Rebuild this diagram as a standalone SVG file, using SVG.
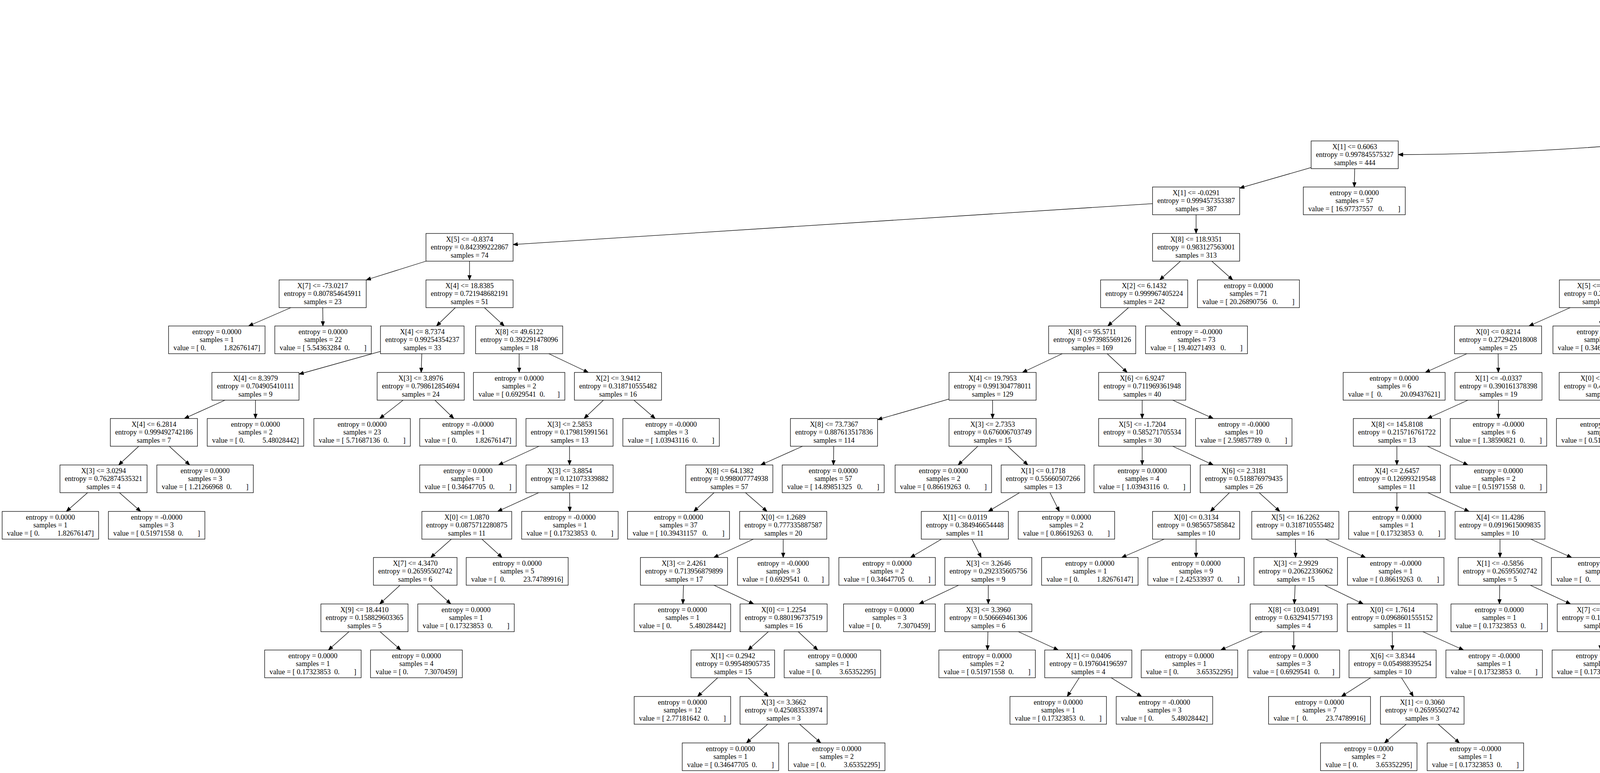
<svg xmlns="http://www.w3.org/2000/svg" width="7316" height="1980" viewBox="0 0 7316 1980">
<style>
rect{fill:#fff;stroke:#000;stroke-width:1.3}
text{font-family:"Liberation Serif","Times New Roman",serif;font-size:18.3px;text-anchor:middle;fill:#000;white-space:pre}
#edges line,#edges path{stroke:#000;stroke-width:1.3;fill:none;marker-end:url(#ah)}
</style>
<defs><marker id="ah" markerWidth="12" markerHeight="10" refX="12" refY="4.75" orient="auto" markerUnits="userSpaceOnUse"><path d="M0,0 L12,4.75 L0,9.5 z" fill="#000" stroke="#000" stroke-width="1"/></marker></defs>
<rect x="0" y="0" width="7316" height="1980" style="stroke:none"/>
<g id="edges">
<line x1="5291.5" y1="56.9" x2="4976.5" y2="132.4"/>
<line x1="5428.5" y1="57" x2="5741.5" y2="132.3"/>
<line x1="4787" y1="195" x2="4683" y2="242"/>
<line x1="4865" y1="195" x2="4865" y2="242"/>
<line x1="5853.6" y1="195" x2="5854.4" y2="242"/>
<line x1="5964.5" y1="182.6" x2="6303.5" y2="254.2"/>
<path d="M4753,312 C4300,366 3900,396 3579.5,396"/>
<line x1="4865" y1="313" x2="4865" y2="361"/>
<line x1="6415" y1="313" x2="6415" y2="361"/>
<line x1="6494.8" y1="313" x2="6601.2" y2="361"/>
<line x1="3356.5" y1="429.1" x2="3173.5" y2="481.9"/>
<line x1="3468" y1="432" x2="3467" y2="479"/>
<line x1="4755.5" y1="432" x2="4609.5" y2="479"/>
<line x1="4976.5" y1="426" x2="5201.5" y2="485"/>
<line x1="6415" y1="432" x2="6415" y2="479"/>
<line x1="6494.8" y1="432" x2="6601.2" y2="479"/>
<line x1="2950.5" y1="521.6" x2="1313.5" y2="626.4"/>
<line x1="3062" y1="550" x2="3062" y2="598"/>
<line x1="4421.7" y1="550" x2="4317.3" y2="598"/>
<line x1="4500" y1="550" x2="4500" y2="598"/>
<line x1="5313" y1="550" x2="5313" y2="598"/>
<line x1="5424.5" y1="533.2" x2="5908.5" y2="614.8"/>
<line x1="6415" y1="550" x2="6415" y2="598"/>
<line x1="6511.9" y1="550" x2="6641.1" y2="598"/>
<line x1="1090.5" y1="669" x2="937.5" y2="717"/>
<line x1="1202" y1="669" x2="1202" y2="717"/>
<line x1="3022.1" y1="669" x2="2968.9" y2="717"/>
<line x1="3102.2" y1="669" x2="3155.8" y2="717"/>
<line x1="4388.5" y1="666.5" x2="4206" y2="720.9"/>
<line x1="4500" y1="669" x2="4500" y2="717"/>
<line x1="5274" y1="669" x2="5222" y2="717"/>
<line x1="5351.7" y1="669" x2="5403.3" y2="717"/>
<line x1="6020" y1="669" x2="6020" y2="717"/>
<line x1="6131.5" y1="662.3" x2="6367.5" y2="723.7"/>
<line x1="6738.3" y1="669" x2="6738.7" y2="717"/>
<line x1="6819" y1="669" x2="6927" y2="717"/>
<line x1="744.7" y1="788" x2="636.3" y2="835"/>
<line x1="826.3" y1="788" x2="826.7" y2="835"/>
<line x1="1165.7" y1="788" x2="1117.3" y2="835"/>
<line x1="1240.1" y1="788" x2="1290.9" y2="835"/>
<line x1="2889.1" y1="788" x2="2835.9" y2="835"/>
<line x1="2969.2" y1="788" x2="3022.8" y2="835"/>
<line x1="4019.8" y1="788" x2="3914.2" y2="835"/>
<line x1="4099" y1="788" x2="4099" y2="835"/>
<line x1="4459.2" y1="788" x2="4404.8" y2="835"/>
<line x1="4540.8" y1="788" x2="4595.2" y2="835"/>
<line x1="5104.7" y1="788" x2="5000.3" y2="835"/>
<line x1="5183" y1="788" x2="5183" y2="835"/>
<line x1="5442" y1="788" x2="5442" y2="835"/>
<line x1="5520" y1="788" x2="5624" y2="835"/>
<line x1="6009.8" y1="788" x2="5996.2" y2="835"/>
<line x1="6087.8" y1="788" x2="6178.2" y2="835"/>
<line x1="6487.1" y1="788" x2="6497.9" y2="835"/>
<line x1="6569.3" y1="788" x2="6689.7" y2="835"/>
<line x1="974" y1="900.2" x2="765.5" y2="958.5"/>
<line x1="1079.8" y1="906" x2="1078.2" y2="954"/>
<line x1="1329" y1="906" x2="1329" y2="954"/>
<line x1="1404.9" y1="906" x2="1506.1" y2="954"/>
<line x1="2719.5" y1="906" x2="2617.5" y2="954"/>
<line x1="2834.4" y1="906" x2="2885.6" y2="954"/>
<line x1="3755.2" y1="906" x2="3648.8" y2="954"/>
<line x1="3835.3" y1="906" x2="3835.7" y2="954"/>
<line x1="4285.7" y1="906" x2="4181.3" y2="954"/>
<line x1="4364" y1="906" x2="4364" y2="954"/>
<line x1="4636" y1="906" x2="4636" y2="954"/>
<line x1="4714" y1="906" x2="4818" y2="954"/>
<line x1="5174.6" y1="906" x2="5163.4" y2="954"/>
<line x1="5254.1" y1="906" x2="5348.9" y2="954"/>
<line x1="5697.8" y1="906" x2="5692.2" y2="954"/>
<line x1="5770.4" y1="906" x2="5861.6" y2="954"/>
<line x1="6246.6" y1="906" x2="6247.4" y2="954"/>
<line x1="6324.9" y1="906" x2="6430.1" y2="954"/>
<line x1="6779.4" y1="906" x2="6778.6" y2="954"/>
<line x1="6855.6" y1="906" x2="6956.4" y2="954"/>
<line x1="576" y1="1025" x2="472" y2="1072"/>
<line x1="654" y1="1025" x2="654" y2="1072"/>
<line x1="1032" y1="1025" x2="972" y2="1072"/>
<line x1="1113.3" y1="1025" x2="1161.7" y2="1072"/>
<line x1="1544.8" y1="1025" x2="1495.2" y2="1072"/>
<line x1="1622.8" y1="1025" x2="1677.2" y2="1072"/>
<line x1="2429.5" y1="1022.1" x2="2246.5" y2="1074.9"/>
<line x1="2541" y1="1025" x2="2541" y2="1072"/>
<line x1="2924" y1="1025" x2="2924" y2="1072"/>
<line x1="3002" y1="1025" x2="3106" y2="1072"/>
<line x1="3758" y1="1025" x2="3654" y2="1072"/>
<line x1="3836" y1="1025" x2="3836" y2="1072"/>
<line x1="4104.5" y1="1025" x2="4106.5" y2="1072"/>
<line x1="4186.1" y1="1025" x2="4296.9" y2="1072"/>
<line x1="4836.9" y1="1025" x2="4758.1" y2="1072"/>
<line x1="4914.6" y1="1025" x2="4939.4" y2="1072"/>
<line x1="5576.5" y1="1022.6" x2="5408.4" y2="1072"/>
<line x1="5654.4" y1="1025" x2="5609.6" y2="1072"/>
<line x1="5905.7" y1="1025" x2="5873.3" y2="1072"/>
<line x1="5983.7" y1="1025" x2="6055.3" y2="1072"/>
<line x1="6284" y1="1025" x2="6332" y2="1072"/>
<line x1="6359.5" y1="1024.3" x2="6514" y2="1072"/>
<line x1="6995.1" y1="1025" x2="6945.9" y2="1072"/>
<line x1="7078.5" y1="1025" x2="7140.5" y2="1072"/>
<line x1="355.3" y1="1143" x2="303.7" y2="1191"/>
<line x1="433.3" y1="1143" x2="485.7" y2="1191"/>
<line x1="1380" y1="1143" x2="1276" y2="1191"/>
<line x1="1458" y1="1143" x2="1458" y2="1191"/>
<line x1="2054.6" y1="1143" x2="1947.4" y2="1191"/>
<line x1="2134.4" y1="1143" x2="2133.6" y2="1191"/>
<line x1="2503.2" y1="1143" x2="2452.8" y2="1191"/>
<line x1="2579.7" y1="1143" x2="2631.3" y2="1191"/>
<line x1="2924" y1="1143" x2="2924" y2="1191"/>
<line x1="3002" y1="1143" x2="3106" y2="1191"/>
<line x1="3576" y1="1143" x2="3576" y2="1191"/>
<line x1="3654" y1="1143" x2="3758" y2="1191"/>
<line x1="4692.1" y1="1143" x2="4682.9" y2="1191"/>
<line x1="4776.1" y1="1143" x2="4878.9" y2="1191"/>
<line x1="6029.2" y1="1143" x2="5922.8" y2="1191"/>
<line x1="6106.9" y1="1143" x2="6104.1" y2="1191"/>
<line x1="6369.8" y1="1143" x2="6372.2" y2="1191"/>
<line x1="6451.4" y1="1143" x2="6562.6" y2="1191"/>
<line x1="224.2" y1="1262" x2="169.8" y2="1310"/>
<line x1="305.8" y1="1262" x2="360.2" y2="1310"/>
<line x1="1379.1" y1="1262" x2="1273.9" y2="1310"/>
<line x1="1458.3" y1="1262" x2="1458.7" y2="1310"/>
<line x1="1828" y1="1262" x2="1776" y2="1310"/>
<line x1="1908.4" y1="1262" x2="1963.6" y2="1310"/>
<line x1="2610" y1="1262" x2="2530" y2="1310"/>
<line x1="2688" y1="1262" x2="2712" y2="1310"/>
<line x1="3147.4" y1="1262" x2="3098.6" y2="1310"/>
<line x1="3223.6" y1="1262" x2="3276.4" y2="1310"/>
<line x1="3576" y1="1262" x2="3576" y2="1310"/>
<line x1="3655.2" y1="1262" x2="3760.8" y2="1310"/>
<line x1="4595.9" y1="1262" x2="4489.1" y2="1310"/>
<line x1="4676" y1="1262" x2="4676" y2="1310"/>
<line x1="4956.3" y1="1262" x2="4956.7" y2="1310"/>
<line x1="5032.5" y1="1262" x2="5134.5" y2="1310"/>
<line x1="5810.9" y1="1262" x2="5768.1" y2="1310"/>
<line x1="5889.2" y1="1262" x2="5950.8" y2="1310"/>
<line x1="1155.4" y1="1381" x2="1102.6" y2="1428"/>
<line x1="1233.7" y1="1381" x2="1285.3" y2="1428"/>
<line x1="1928.8" y1="1381" x2="1827.2" y2="1428"/>
<line x1="2005" y1="1381" x2="2005" y2="1428"/>
<line x1="2410.3" y1="1381" x2="2330.7" y2="1428"/>
<line x1="2488" y1="1381" x2="2512" y2="1428"/>
<line x1="2980.4" y1="1381" x2="2871.6" y2="1428"/>
<line x1="3062" y1="1381" x2="3062" y2="1428"/>
<line x1="3316.3" y1="1381" x2="3316.7" y2="1428"/>
<line x1="3393.1" y1="1381" x2="3495.9" y2="1428"/>
<line x1="3840" y1="1381" x2="3840" y2="1428"/>
<line x1="3918.6" y1="1381" x2="4023.4" y2="1428"/>
<line x1="4404.8" y1="1381" x2="4399.2" y2="1428"/>
<line x1="4486.4" y1="1381" x2="4589.6" y2="1428"/>
<line x1="5135.1" y1="1381" x2="5033.9" y2="1428"/>
<line x1="5215.2" y1="1381" x2="5220.8" y2="1428"/>
<line x1="5943" y1="1381" x2="5871" y2="1428"/>
<line x1="6020.7" y1="1381" x2="6052.3" y2="1428"/>
<line x1="1024" y1="1499" x2="972" y2="1547"/>
<line x1="1102" y1="1499" x2="1154" y2="1547"/>
<line x1="1749.8" y1="1499" x2="1748.2" y2="1547"/>
<line x1="1827.5" y1="1499" x2="1929.5" y2="1547"/>
<line x1="2454.1" y1="1499" x2="2352.9" y2="1547"/>
<line x1="2530" y1="1499" x2="2530" y2="1547"/>
<line x1="3315.5" y1="1499" x2="3313.5" y2="1547"/>
<line x1="3391.1" y1="1499" x2="3489.9" y2="1547"/>
<line x1="3839.4" y1="1499" x2="3838.6" y2="1547"/>
<line x1="3917.4" y1="1499" x2="4020.6" y2="1547"/>
<line x1="5180.9" y1="1499" x2="5122.1" y2="1547"/>
<line x1="5257.1" y1="1499" x2="5299.9" y2="1547"/>
<line x1="5753.1" y1="1499" x2="5667.9" y2="1547"/>
<line x1="5831.1" y1="1499" x2="5849.9" y2="1547"/>
<line x1="893.4" y1="1618" x2="840.6" y2="1665"/>
<line x1="972.9" y1="1618" x2="1026.1" y2="1665"/>
<line x1="1967" y1="1618" x2="1915" y2="1665"/>
<line x1="2043.5" y1="1618" x2="2093.5" y2="1665"/>
<line x1="2529.1" y1="1618" x2="2527.9" y2="1665"/>
<line x1="2606.8" y1="1618" x2="2709.2" y2="1665"/>
<line x1="3231.9" y1="1618" x2="3125.1" y2="1665"/>
<line x1="3312" y1="1618" x2="3312" y2="1665"/>
<line x1="3564.3" y1="1618" x2="3564.7" y2="1665"/>
<line x1="3642.3" y1="1618" x2="3746.7" y2="1665"/>
<line x1="4097.7" y1="1618" x2="4097.3" y2="1665"/>
<line x1="4177.2" y1="1618" x2="4282.8" y2="1665"/>
<line x1="5288.8" y1="1618" x2="5231.2" y2="1665"/>
<line x1="5371" y1="1618" x2="5423" y2="1665"/>
<line x1="5844.5" y1="1618" x2="5818.5" y2="1665"/>
<line x1="5925.8" y1="1618" x2="6008.2" y2="1665"/>
<line x1="1837.3" y1="1736" x2="1785.7" y2="1784"/>
<line x1="1915" y1="1736" x2="1967" y2="1784"/>
<line x1="2762.9" y1="1736" x2="2732.1" y2="1784"/>
<line x1="2844.5" y1="1736" x2="2922.5" y2="1784"/>
<line x1="3508.9" y1="1736" x2="3434.1" y2="1784"/>
<line x1="3587.8" y1="1736" x2="3618.2" y2="1784"/>
<line x1="1965.2" y1="1855" x2="1910.8" y2="1903"/>
<line x1="2046.8" y1="1855" x2="2101.2" y2="1903"/>
<line x1="3599.9" y1="1855" x2="3544.1" y2="1903"/>
<line x1="3681.8" y1="1855" x2="3736.2" y2="1903"/>
</g>
<g id="n0" transform="translate(5360,5)"><rect x="-68.5" width="137" height="71"/><text><tspan x="0" y="20.5">X[3] &lt;= 4.0217</tspan><tspan x="0" y="41">entropy = 1.0</tspan><tspan x="0" y="61.5">samples = 980</tspan></text></g>
<g id="n1" transform="translate(4865,124)"><rect x="-111.5" width="223" height="71"/><text><tspan x="0" y="20.5">X[3] &lt;= 2.4174</tspan><tspan x="0" y="41">entropy = 0.985518266748</tspan><tspan x="0" y="61.5">samples = 737</tspan></text></g>
<g id="n2" transform="translate(5853,124)"><rect x="-111.5" width="223" height="71"/><text><tspan x="0" y="20.5">X[2] &lt;= -5.6772</tspan><tspan x="0" y="41">entropy = 0.395047326219</tspan><tspan x="0" y="61.5">samples = 243</tspan></text></g>
<g id="n3" transform="translate(4605,242)"><rect x="-124" width="248" height="71"/><text><tspan x="0" y="20.5">entropy = 0.0000</tspan><tspan x="0" y="41">samples = 26</tspan><tspan x="0" y="61.5" xml:space="preserve">value = [ 7.44925663  0.        ]</tspan></text></g>
<g id="n4" transform="translate(4865,242)"><rect x="-111.5" width="223" height="71"/><text><tspan x="0" y="20.5">X[7] &lt;= 10.0847</tspan><tspan x="0" y="41">entropy = 0.980962209176</tspan><tspan x="0" y="61.5">samples = 711</tspan></text></g>
<g id="n5" transform="translate(5855,242)"><rect x="-123.5" width="247" height="71"/><text><tspan x="0" y="20.5">entropy = 0.0000</tspan><tspan x="0" y="41">samples = 1</tspan><tspan x="0" y="61.5" xml:space="preserve">value = [ 0.          1.82676147]</tspan></text></g>
<g id="n6" transform="translate(6415,242)"><rect x="-111.5" width="223" height="71"/><text><tspan x="0" y="20.5">X[4] &lt;= 2.3104</tspan><tspan x="0" y="41">entropy = 0.300581596509</tspan><tspan x="0" y="61.5">samples = 242</tspan></text></g>
<g id="n7" transform="translate(3468,361)"><rect x="-111.5" width="223" height="71"/><text><tspan x="0" y="20.5">X[1] &lt;= 0.6063</tspan><tspan x="0" y="41">entropy = 0.997845575327</tspan><tspan x="0" y="61.5">samples = 444</tspan></text></g>
<g id="n8" transform="translate(4865,361)"><rect x="-111.5" width="223" height="71"/><text><tspan x="0" y="20.5">X[1] &lt;= 0.0088</tspan><tspan x="0" y="41">entropy = 0.885373775643</tspan><tspan x="0" y="61.5">samples = 267</tspan></text></g>
<g id="n9" transform="translate(6415,361)"><rect x="-111.5" width="223" height="71"/><text><tspan x="0" y="20.5">X[1] &lt;= 0.0706</tspan><tspan x="0" y="41">entropy = 0.639346921343</tspan><tspan x="0" y="61.5">samples = 79</tspan></text></g>
<g id="n10" transform="translate(6681,361)"><rect x="-130.5" width="261" height="71"/><text><tspan x="0" y="20.5">entropy = -0.0000</tspan><tspan x="0" y="41">samples = 163</tspan><tspan x="0" y="61.5" xml:space="preserve">value = [ 45.90820944   0.        ]</tspan></text></g>
<g id="n11" transform="translate(3062,479)"><rect x="-111.5" width="223" height="71"/><text><tspan x="0" y="20.5">X[1] &lt;= -0.0291</tspan><tspan x="0" y="41">entropy = 0.999457353387</tspan><tspan x="0" y="61.5">samples = 387</tspan></text></g>
<g id="n12" transform="translate(3467,479)"><rect x="-130.5" width="261" height="71"/><text><tspan x="0" y="20.5">entropy = 0.0000</tspan><tspan x="0" y="41">samples = 57</tspan><tspan x="0" y="61.5" xml:space="preserve">value = [ 16.97737557   0.        ]</tspan></text></g>
<g id="n13" transform="translate(4500,479)"><rect x="-111.5" width="223" height="71"/><text><tspan x="0" y="20.5">X[8] &lt;= 35.4259</tspan><tspan x="0" y="41">entropy = 0.571248112868</tspan><tspan x="0" y="61.5">samples = 82</tspan></text></g>
<g id="n14" transform="translate(5313,479)"><rect x="-111.5" width="223" height="71"/><text><tspan x="0" y="20.5">X[2] &lt;= 4.2342</tspan><tspan x="0" y="41">entropy = 0.999995079687</tspan><tspan x="0" y="61.5">samples = 185</tspan></text></g>
<g id="n15" transform="translate(6415,479)"><rect x="-111.5" width="223" height="71"/><text><tspan x="0" y="20.5">X[1] &lt;= 0.0418</tspan><tspan x="0" y="41">entropy = 0.882381434225</tspan><tspan x="0" y="61.5">samples = 39</tspan></text></g>
<g id="n16" transform="translate(6681,479)"><rect x="-130.5" width="261" height="71"/><text><tspan x="0" y="20.5">entropy = 0.0000</tspan><tspan x="0" y="41">samples = 40</tspan><tspan x="0" y="61.5" xml:space="preserve">value = [ 10.39431157   0.        ]</tspan></text></g>
<g id="n17" transform="translate(1202,598)"><rect x="-111.5" width="223" height="71"/><text><tspan x="0" y="20.5">X[5] &lt;= -0.8374</tspan><tspan x="0" y="41">entropy = 0.842399222867</tspan><tspan x="0" y="61.5">samples = 74</tspan></text></g>
<g id="n18" transform="translate(3062,598)"><rect x="-111.5" width="223" height="71"/><text><tspan x="0" y="20.5">X[8] &lt;= 118.9351</tspan><tspan x="0" y="41">entropy = 0.983127563001</tspan><tspan x="0" y="61.5">samples = 313</tspan></text></g>
<g id="n19" transform="translate(4239,598)"><rect x="-124" width="248" height="71"/><text><tspan x="0" y="20.5">entropy = 0.0000</tspan><tspan x="0" y="41">samples = 4</tspan><tspan x="0" y="61.5" xml:space="preserve">value = [ 1.38590821  0.        ]</tspan></text></g>
<g id="n20" transform="translate(4500,598)"><rect x="-111.5" width="223" height="71"/><text><tspan x="0" y="20.5">X[6] &lt;= 4.1319</tspan><tspan x="0" y="41">entropy = 0.540248613025</tspan><tspan x="0" y="61.5">samples = 78</tspan></text></g>
<g id="n21" transform="translate(5313,598)"><rect x="-111.5" width="223" height="71"/><text><tspan x="0" y="20.5">X[4] &lt;= 3.4057</tspan><tspan x="0" y="41">entropy = 0.913009199517</tspan><tspan x="0" y="61.5">samples = 81</tspan></text></g>
<g id="n22" transform="translate(6020,598)"><rect x="-111.5" width="223" height="71"/><text><tspan x="0" y="20.5">X[4] &lt;= 0.7739</tspan><tspan x="0" y="41">entropy = 0.804136724986</tspan><tspan x="0" y="61.5">samples = 104</tspan></text></g>
<g id="n23" transform="translate(6415,598)"><rect x="-123.5" width="247" height="71"/><text><tspan x="0" y="20.5">entropy = 0.0000</tspan><tspan x="0" y="41">samples = 36</tspan><tspan x="0" y="61.5" xml:space="preserve">value = [ 8.31544926  0.        ]</tspan></text></g>
<g id="n24" transform="translate(6738,598)"><rect x="-107" width="214" height="71"/><text><tspan x="0" y="20.5">X[0] &lt;= 0.7573</tspan><tspan x="0" y="41">entropy = 0.26595502742</tspan><tspan x="0" y="61.5">samples = 3</tspan></text></g>
<g id="n25" transform="translate(826,717)"><rect x="-111.5" width="223" height="71"/><text><tspan x="0" y="20.5">X[7] &lt;= -73.0217</tspan><tspan x="0" y="41">entropy = 0.807854645911</tspan><tspan x="0" y="61.5">samples = 23</tspan></text></g>
<g id="n26" transform="translate(1202,717)"><rect x="-111.5" width="223" height="71"/><text><tspan x="0" y="20.5">X[4] &lt;= 18.8385</tspan><tspan x="0" y="41">entropy = 0.721948682191</tspan><tspan x="0" y="61.5">samples = 51</tspan></text></g>
<g id="n27" transform="translate(2929,717)"><rect x="-111.5" width="223" height="71"/><text><tspan x="0" y="20.5">X[2] &lt;= 6.1432</tspan><tspan x="0" y="41">entropy = 0.999967405224</tspan><tspan x="0" y="61.5">samples = 242</tspan></text></g>
<g id="n28" transform="translate(3196,717)"><rect x="-130.5" width="261" height="71"/><text><tspan x="0" y="20.5">entropy = 0.0000</tspan><tspan x="0" y="41">samples = 71</tspan><tspan x="0" y="61.5" xml:space="preserve">value = [ 20.26890756   0.        ]</tspan></text></g>
<g id="n29" transform="translate(4099,717)"><rect x="-107" width="214" height="71"/><text><tspan x="0" y="20.5">X[5] &lt;= 21.9710</tspan><tspan x="0" y="41">entropy = 0.29986940485</tspan><tspan x="0" y="61.5">samples = 26</tspan></text></g>
<g id="n30" transform="translate(4500,717)"><rect x="-111.5" width="223" height="71"/><text><tspan x="0" y="20.5">X[7] &lt;= 12.6383</tspan><tspan x="0" y="41">entropy = 0.704905410111</tspan><tspan x="0" y="61.5">samples = 52</tspan></text></g>
<g id="n31" transform="translate(5183,717)"><rect x="-111.5" width="223" height="71"/><text><tspan x="0" y="20.5">X[5] &lt;= 16.3551</tspan><tspan x="0" y="41">entropy = 0.856618180482</tspan><tspan x="0" y="61.5">samples = 35</tspan></text></g>
<g id="n32" transform="translate(5442,717)"><rect x="-111.5" width="223" height="71"/><text><tspan x="0" y="20.5">X[2] &lt;= -0.9891</tspan><tspan x="0" y="41">entropy = 0.732182548359</tspan><tspan x="0" y="61.5">samples = 46</tspan></text></g>
<g id="n33" transform="translate(6020,717)"><rect x="-111.5" width="223" height="71"/><text><tspan x="0" y="20.5">X[6] &lt;= 1.4961</tspan><tspan x="0" y="41">entropy = 0.944862741412</tspan><tspan x="0" y="61.5">samples = 18</tspan></text></g>
<g id="n34" transform="translate(6479,717)"><rect x="-111.5" width="223" height="71"/><text><tspan x="0" y="20.5">X[8] &lt;= 114.9678</tspan><tspan x="0" y="41">entropy = 0.369596895294</tspan><tspan x="0" y="61.5">samples = 86</tspan></text></g>
<g id="n35" transform="translate(6739,717)"><rect x="-123.5" width="247" height="71"/><text><tspan x="0" y="20.5">entropy = 0.0000</tspan><tspan x="0" y="41">samples = 1</tspan><tspan x="0" y="61.5" xml:space="preserve">value = [ 0.17323853  0.        ]</tspan></text></g>
<g id="n36" transform="translate(7008,717)"><rect x="-123.5" width="247" height="71"/><text><tspan x="0" y="20.5">entropy = 0.0000</tspan><tspan x="0" y="41">samples = 2</tspan><tspan x="0" y="61.5" xml:space="preserve">value = [ 0.          3.65352295]</tspan></text></g>
<g id="n37" transform="translate(555,835)"><rect x="-123.5" width="247" height="71"/><text><tspan x="0" y="20.5">entropy = 0.0000</tspan><tspan x="0" y="41">samples = 1</tspan><tspan x="0" y="61.5" xml:space="preserve">value = [ 0.          1.82676147]</tspan></text></g>
<g id="n38" transform="translate(827,835)"><rect x="-123.5" width="247" height="71"/><text><tspan x="0" y="20.5">entropy = 0.0000</tspan><tspan x="0" y="41">samples = 22</tspan><tspan x="0" y="61.5" xml:space="preserve">value = [ 5.54363284  0.        ]</tspan></text></g>
<g id="n39" transform="translate(1081,835)"><rect x="-107" width="214" height="71"/><text><tspan x="0" y="20.5">X[4] &lt;= 8.7374</tspan><tspan x="0" y="41">entropy = 0.99254354237</tspan><tspan x="0" y="61.5">samples = 33</tspan></text></g>
<g id="n40" transform="translate(1329,835)"><rect x="-111.5" width="223" height="71"/><text><tspan x="0" y="20.5">X[8] &lt;= 49.6122</tspan><tspan x="0" y="41">entropy = 0.392291478096</tspan><tspan x="0" y="61.5">samples = 18</tspan></text></g>
<g id="n41" transform="translate(2796,835)"><rect x="-111.5" width="223" height="71"/><text><tspan x="0" y="20.5">X[8] &lt;= 95.5711</tspan><tspan x="0" y="41">entropy = 0.973985569126</tspan><tspan x="0" y="61.5">samples = 169</tspan></text></g>
<g id="n42" transform="translate(3063,835)"><rect x="-130.5" width="261" height="71"/><text><tspan x="0" y="20.5">entropy = -0.0000</tspan><tspan x="0" y="41">samples = 73</tspan><tspan x="0" y="61.5" xml:space="preserve">value = [ 19.40271493   0.        ]</tspan></text></g>
<g id="n43" transform="translate(3835,835)"><rect x="-111.5" width="223" height="71"/><text><tspan x="0" y="20.5">X[0] &lt;= 0.8214</tspan><tspan x="0" y="41">entropy = 0.272942018008</tspan><tspan x="0" y="61.5">samples = 25</tspan></text></g>
<g id="n44" transform="translate(4099,835)"><rect x="-123.5" width="247" height="71"/><text><tspan x="0" y="20.5">entropy = 0.0000</tspan><tspan x="0" y="41">samples = 1</tspan><tspan x="0" y="61.5" xml:space="preserve">value = [ 0.34647705  0.        ]</tspan></text></g>
<g id="n45" transform="translate(4364,835)"><rect x="-111.5" width="223" height="71"/><text><tspan x="0" y="20.5">X[0] &lt;= 0.8615</tspan><tspan x="0" y="41">entropy = 0.990078517384</tspan><tspan x="0" y="61.5">samples = 16</tspan></text></g>
<g id="n46" transform="translate(4636,835)"><rect x="-107" width="214" height="71"/><text><tspan x="0" y="20.5">X[1] &lt;= -1.2869</tspan><tspan x="0" y="41">entropy = 0.57495615713</tspan><tspan x="0" y="61.5">samples = 36</tspan></text></g>
<g id="n47" transform="translate(4922,835)"><rect x="-123.5" width="247" height="71"/><text><tspan x="0" y="20.5">entropy = 0.0000</tspan><tspan x="0" y="41">samples = 32</tspan><tspan x="0" y="61.5" xml:space="preserve">value = [ 8.83516484  0.        ]</tspan></text></g>
<g id="n48" transform="translate(5183,835)"><rect x="-111.5" width="223" height="71"/><text><tspan x="0" y="20.5">X[7] &lt;= 13.6209</tspan><tspan x="0" y="41">entropy = 0.542258484623</tspan><tspan x="0" y="61.5">samples = 3</tspan></text></g>
<g id="n49" transform="translate(5442,835)"><rect x="-123.5" width="247" height="71"/><text><tspan x="0" y="20.5">entropy = 0.0000</tspan><tspan x="0" y="41">samples = 7</tspan><tspan x="0" y="61.5" xml:space="preserve">value = [ 1.90562379  0.        ]</tspan></text></g>
<g id="n50" transform="translate(5702,835)"><rect x="-111.5" width="223" height="71"/><text><tspan x="0" y="20.5">X[9] &lt;= 8.3130</tspan><tspan x="0" y="41">entropy = 0.650351927456</tspan><tspan x="0" y="61.5">samples = 39</tspan></text></g>
<g id="n51" transform="translate(5986,835)"><rect x="-123.5" width="247" height="71"/><text><tspan x="0" y="20.5">entropy = 0.0000</tspan><tspan x="0" y="41">samples = 5</tspan><tspan x="0" y="61.5" xml:space="preserve">value = [ 1.55914674  0.        ]</tspan></text></g>
<g id="n52" transform="translate(6246,835)"><rect x="-111.5" width="223" height="71"/><text><tspan x="0" y="20.5">X[0] &lt;= 1.2612</tspan><tspan x="0" y="41">entropy = 0.830247420724</tspan><tspan x="0" y="61.5">samples = 13</tspan></text></g>
<g id="n53" transform="translate(6506,835)"><rect x="-124" width="248" height="71"/><text><tspan x="0" y="20.5">entropy = 0.0000</tspan><tspan x="0" y="41">samples = 73</tspan><tspan x="0" y="61.5" xml:space="preserve">value = [ 19.74919198   0.        ]</tspan></text></g>
<g id="n54" transform="translate(6780,835)"><rect x="-111.5" width="223" height="71"/><text><tspan x="0" y="20.5">X[5] &lt;= 14.0265</tspan><tspan x="0" y="41">entropy = 0.887613517836</tspan><tspan x="0" y="61.5">samples = 13</tspan></text></g>
<g id="n55" transform="translate(654,954)"><rect x="-111.5" width="223" height="71"/><text><tspan x="0" y="20.5">X[4] &lt;= 8.3979</tspan><tspan x="0" y="41">entropy = 0.704905410111</tspan><tspan x="0" y="61.5">samples = 9</tspan></text></g>
<g id="n56" transform="translate(1077,954)"><rect x="-111.5" width="223" height="71"/><text><tspan x="0" y="20.5">X[3] &lt;= 3.8976</tspan><tspan x="0" y="41">entropy = 0.798612854694</tspan><tspan x="0" y="61.5">samples = 24</tspan></text></g>
<g id="n57" transform="translate(1329,954)"><rect x="-117" width="234" height="71"/><text><tspan x="0" y="20.5">entropy = 0.0000</tspan><tspan x="0" y="41">samples = 2</tspan><tspan x="0" y="61.5" xml:space="preserve">value = [ 0.6929541  0.       ]</tspan></text></g>
<g id="n58" transform="translate(1582,954)"><rect x="-111.5" width="223" height="71"/><text><tspan x="0" y="20.5">X[2] &lt;= 3.9412</tspan><tspan x="0" y="41">entropy = 0.318710555482</tspan><tspan x="0" y="61.5">samples = 16</tspan></text></g>
<g id="n59" transform="translate(2541,954)"><rect x="-111.5" width="223" height="71"/><text><tspan x="0" y="20.5">X[4] &lt;= 19.7953</tspan><tspan x="0" y="41">entropy = 0.991304778011</tspan><tspan x="0" y="61.5">samples = 129</tspan></text></g>
<g id="n60" transform="translate(2924,954)"><rect x="-111.5" width="223" height="71"/><text><tspan x="0" y="20.5">X[6] &lt;= 6.9247</tspan><tspan x="0" y="41">entropy = 0.711969361948</tspan><tspan x="0" y="61.5">samples = 40</tspan></text></g>
<g id="n61" transform="translate(3569,954)"><rect x="-130.5" width="261" height="71"/><text><tspan x="0" y="20.5">entropy = 0.0000</tspan><tspan x="0" y="41">samples = 6</tspan><tspan x="0" y="61.5" xml:space="preserve">value = [  0.          20.09437621]</tspan></text></g>
<g id="n62" transform="translate(3836,954)"><rect x="-111.5" width="223" height="71"/><text><tspan x="0" y="20.5">X[1] &lt;= -0.0337</tspan><tspan x="0" y="41">entropy = 0.390161378398</tspan><tspan x="0" y="61.5">samples = 19</tspan></text></g>
<g id="n63" transform="translate(4103,954)"><rect x="-111.5" width="223" height="71"/><text><tspan x="0" y="20.5">X[0] &lt;= 0.6835</tspan><tspan x="0" y="41">entropy = 0.425083533974</tspan><tspan x="0" y="61.5">samples = 3</tspan></text></g>
<g id="n64" transform="translate(4364,954)"><rect x="-123.5" width="247" height="71"/><text><tspan x="0" y="20.5">entropy = 0.0000</tspan><tspan x="0" y="41">samples = 13</tspan><tspan x="0" y="61.5" xml:space="preserve">value = [ 3.81124758  0.        ]</tspan></text></g>
<g id="n65" transform="translate(4636,954)"><rect x="-123.5" width="247" height="71"/><text><tspan x="0" y="20.5">entropy = 0.0000</tspan><tspan x="0" y="41">samples = 5</tspan><tspan x="0" y="61.5" xml:space="preserve">value = [ 1.55914674  0.        ]</tspan></text></g>
<g id="n66" transform="translate(4896,954)"><rect x="-111.5" width="223" height="71"/><text><tspan x="0" y="20.5">X[9] &lt;= 64.0576</tspan><tspan x="0" y="41">entropy = 0.484882189602</tspan><tspan x="0" y="61.5">samples = 31</tspan></text></g>
<g id="n67" transform="translate(5155,954)"><rect x="-123.5" width="247" height="71"/><text><tspan x="0" y="20.5">entropy = 0.0000</tspan><tspan x="0" y="41">samples = 2</tspan><tspan x="0" y="61.5" xml:space="preserve">value = [ 0.51971558  0.        ]</tspan></text></g>
<g id="n68" transform="translate(5420,954)"><rect x="-123.5" width="247" height="71"/><text><tspan x="0" y="20.5">entropy = -0.0000</tspan><tspan x="0" y="41">samples = 1</tspan><tspan x="0" y="61.5" xml:space="preserve">value = [ 0.          3.65352295]</tspan></text></g>
<g id="n69" transform="translate(5688,954)"><rect x="-111.5" width="223" height="71"/><text><tspan x="0" y="20.5">X[4] &lt;= 11.8635</tspan><tspan x="0" y="41">entropy = 0.102364441452</tspan><tspan x="0" y="61.5">samples = 5</tspan></text></g>
<g id="n70" transform="translate(5930,954)"><rect x="-107" width="214" height="71"/><text><tspan x="0" y="20.5">X[9] &lt;= 11.5728</tspan><tspan x="0" y="41">entropy = 0.79808983746</tspan><tspan x="0" y="61.5">samples = 34</tspan></text></g>
<g id="n71" transform="translate(6248,954)"><rect x="-111.5" width="223" height="71"/><text><tspan x="0" y="20.5">X[7] &lt;= 13.2385</tspan><tspan x="0" y="41">entropy = 0.979363694585</tspan><tspan x="0" y="61.5">samples = 11</tspan></text></g>
<g id="n72" transform="translate(6509,954)"><rect x="-123.5" width="247" height="71"/><text><tspan x="0" y="20.5">entropy = 0.0000</tspan><tspan x="0" y="41">samples = 2</tspan><tspan x="0" y="61.5" xml:space="preserve">value = [ 0.          3.65352295]</tspan></text></g>
<g id="n73" transform="translate(6778,954)"><rect x="-117" width="234" height="71"/><text><tspan x="0" y="20.5">entropy = 0.0000</tspan><tspan x="0" y="41">samples = 11</tspan><tspan x="0" y="61.5" xml:space="preserve">value = [ 3.9844861  0.       ]</tspan></text></g>
<g id="n74" transform="translate(7032,954)"><rect x="-111.5" width="223" height="71"/><text><tspan x="0" y="20.5">X[9] &lt;= 35.6051</tspan><tspan x="0" y="41">entropy = 0.425083533974</tspan><tspan x="0" y="61.5">samples = 2</tspan></text></g>
<g id="n75" transform="translate(394,1072)"><rect x="-111.5" width="223" height="71"/><text><tspan x="0" y="20.5">X[4] &lt;= 6.2814</tspan><tspan x="0" y="41">entropy = 0.999492742186</tspan><tspan x="0" y="61.5">samples = 7</tspan></text></g>
<g id="n76" transform="translate(654,1072)"><rect x="-123.5" width="247" height="71"/><text><tspan x="0" y="20.5">entropy = 0.0000</tspan><tspan x="0" y="41">samples = 2</tspan><tspan x="0" y="61.5" xml:space="preserve">value = [ 0.          5.48028442]</tspan></text></g>
<g id="n77" transform="translate(927,1072)"><rect x="-123.5" width="247" height="71"/><text><tspan x="0" y="20.5">entropy = 0.0000</tspan><tspan x="0" y="41">samples = 23</tspan><tspan x="0" y="61.5" xml:space="preserve">value = [ 5.71687136  0.        ]</tspan></text></g>
<g id="n78" transform="translate(1198,1072)"><rect x="-123.5" width="247" height="71"/><text><tspan x="0" y="20.5">entropy = -0.0000</tspan><tspan x="0" y="41">samples = 1</tspan><tspan x="0" y="61.5" xml:space="preserve">value = [ 0.          1.82676147]</tspan></text></g>
<g id="n79" transform="translate(1458,1072)"><rect x="-111.5" width="223" height="71"/><text><tspan x="0" y="20.5">X[3] &lt;= 2.5853</tspan><tspan x="0" y="41">entropy = 0.179815991561</tspan><tspan x="0" y="61.5">samples = 13</tspan></text></g>
<g id="n80" transform="translate(1718,1072)"><rect x="-123.5" width="247" height="71"/><text><tspan x="0" y="20.5">entropy = -0.0000</tspan><tspan x="0" y="41">samples = 3</tspan><tspan x="0" y="61.5" xml:space="preserve">value = [ 1.03943116  0.        ]</tspan></text></g>
<g id="n81" transform="translate(2135,1072)"><rect x="-111.5" width="223" height="71"/><text><tspan x="0" y="20.5">X[8] &lt;= 73.7367</tspan><tspan x="0" y="41">entropy = 0.887613517836</tspan><tspan x="0" y="61.5">samples = 114</tspan></text></g>
<g id="n82" transform="translate(2541,1072)"><rect x="-111.5" width="223" height="71"/><text><tspan x="0" y="20.5">X[3] &lt;= 2.7353</tspan><tspan x="0" y="41">entropy = 0.676006703749</tspan><tspan x="0" y="61.5">samples = 15</tspan></text></g>
<g id="n83" transform="translate(2924,1072)"><rect x="-111.5" width="223" height="71"/><text><tspan x="0" y="20.5">X[5] &lt;= -1.7204</tspan><tspan x="0" y="41">entropy = 0.585271705534</tspan><tspan x="0" y="61.5">samples = 30</tspan></text></g>
<g id="n84" transform="translate(3184,1072)"><rect x="-123.5" width="247" height="71"/><text><tspan x="0" y="20.5">entropy = -0.0000</tspan><tspan x="0" y="41">samples = 10</tspan><tspan x="0" y="61.5" xml:space="preserve">value = [ 2.59857789  0.        ]</tspan></text></g>
<g id="n85" transform="translate(3576,1072)"><rect x="-111.5" width="223" height="71"/><text><tspan x="0" y="20.5">X[8] &lt;= 145.8108</tspan><tspan x="0" y="41">entropy = 0.215716761722</tspan><tspan x="0" y="61.5">samples = 13</tspan></text></g>
<g id="n86" transform="translate(3836,1072)"><rect x="-123.5" width="247" height="71"/><text><tspan x="0" y="20.5">entropy = -0.0000</tspan><tspan x="0" y="41">samples = 6</tspan><tspan x="0" y="61.5" xml:space="preserve">value = [ 1.38590821  0.        ]</tspan></text></g>
<g id="n87" transform="translate(4108,1072)"><rect x="-123.5" width="247" height="71"/><text><tspan x="0" y="20.5">entropy = 0.0000</tspan><tspan x="0" y="41">samples = 1</tspan><tspan x="0" y="61.5" xml:space="preserve">value = [ 0.51971558  0.        ]</tspan></text></g>
<g id="n88" transform="translate(4380,1072)"><rect x="-123.5" width="247" height="71"/><text><tspan x="0" y="20.5">entropy = 0.0000</tspan><tspan x="0" y="41">samples = 2</tspan><tspan x="0" y="61.5" xml:space="preserve">value = [ 0.          5.48028442]</tspan></text></g>
<g id="n89" transform="translate(4699,1072)"><rect x="-111.5" width="223" height="71"/><text><tspan x="0" y="20.5">X[7] &lt;= 17.0537</tspan><tspan x="0" y="41">entropy = 0.449984518881</tspan><tspan x="0" y="61.5">samples = 30</tspan></text></g>
<g id="n90" transform="translate(4958,1072)"><rect x="-123.5" width="247" height="71"/><text><tspan x="0" y="20.5">entropy = -0.0000</tspan><tspan x="0" y="41">samples = 1</tspan><tspan x="0" y="61.5" xml:space="preserve">value = [ 0.51971558  0.        ]</tspan></text></g>
<g id="n91" transform="translate(5289,1072)"><rect x="-123.5" width="247" height="71"/><text><tspan x="0" y="20.5">entropy = 0.0000</tspan><tspan x="0" y="41">samples = 1</tspan><tspan x="0" y="61.5" xml:space="preserve">value = [ 0.17323853  0.        ]</tspan></text></g>
<g id="n92" transform="translate(5576,1072)"><rect x="-130.5" width="261" height="71"/><text><tspan x="0" y="20.5">entropy = 0.0000</tspan><tspan x="0" y="41">samples = 4</tspan><tspan x="0" y="61.5" xml:space="preserve">value = [  0.          12.78733032]</tspan></text></g>
<g id="n93" transform="translate(5849,1072)"><rect x="-123.5" width="247" height="71"/><text><tspan x="0" y="20.5">entropy = 0.0000</tspan><tspan x="0" y="41">samples = 6</tspan><tspan x="0" y="61.5" xml:space="preserve">value = [ 1.90562379  0.        ]</tspan></text></g>
<g id="n94" transform="translate(6109,1072)"><rect x="-111.5" width="223" height="71"/><text><tspan x="0" y="20.5">X[3] &lt;= 3.7377</tspan><tspan x="0" y="41">entropy = 0.686829655177</tspan><tspan x="0" y="61.5">samples = 28</tspan></text></g>
<g id="n95" transform="translate(6368,1072)"><rect x="-111.5" width="223" height="71"/><text><tspan x="0" y="20.5">X[4] &lt;= 0.5853</tspan><tspan x="0" y="41">entropy = 0.542258484623</tspan><tspan x="0" y="61.5">samples = 3</tspan></text></g>
<g id="n96" transform="translate(6628,1072)"><rect x="-123.5" width="247" height="71"/><text><tspan x="0" y="20.5">entropy = 0.0000</tspan><tspan x="0" y="41">samples = 8</tspan><tspan x="0" y="61.5" xml:space="preserve">value = [ 2.07886231  0.        ]</tspan></text></g>
<g id="n97" transform="translate(6909,1072)"><rect x="-118" width="236" height="71"/><text><tspan x="0" y="20.5">entropy = 0.0000</tspan><tspan x="0" y="41">samples = 1</tspan><tspan x="0" y="61.5" xml:space="preserve">value = [ 0.          1.82676147]</tspan></text></g>
<g id="n98" transform="translate(7187,1072)"><rect x="-123.5" width="247" height="71"/><text><tspan x="0" y="20.5">entropy = 0.0000</tspan><tspan x="0" y="41">samples = 1</tspan><tspan x="0" y="61.5" xml:space="preserve">value = [ 0.17323853  0.        ]</tspan></text></g>
<g id="n99" transform="translate(265,1191)"><rect x="-111.5" width="223" height="71"/><text><tspan x="0" y="20.5">X[3] &lt;= 3.0294</tspan><tspan x="0" y="41">entropy = 0.762874535321</tspan><tspan x="0" y="61.5">samples = 4</tspan></text></g>
<g id="n100" transform="translate(525,1191)"><rect x="-123.5" width="247" height="71"/><text><tspan x="0" y="20.5">entropy = 0.0000</tspan><tspan x="0" y="41">samples = 3</tspan><tspan x="0" y="61.5" xml:space="preserve">value = [ 1.21266968  0.        ]</tspan></text></g>
<g id="n101" transform="translate(1198,1191)"><rect x="-123.5" width="247" height="71"/><text><tspan x="0" y="20.5">entropy = 0.0000</tspan><tspan x="0" y="41">samples = 1</tspan><tspan x="0" y="61.5" xml:space="preserve">value = [ 0.34647705  0.        ]</tspan></text></g>
<g id="n102" transform="translate(1458,1191)"><rect x="-111.5" width="223" height="71"/><text><tspan x="0" y="20.5">X[3] &lt;= 3.8854</tspan><tspan x="0" y="41">entropy = 0.121073339882</tspan><tspan x="0" y="61.5">samples = 12</tspan></text></g>
<g id="n103" transform="translate(1867,1191)"><rect x="-111.5" width="223" height="71"/><text><tspan x="0" y="20.5">X[8] &lt;= 64.1382</tspan><tspan x="0" y="41">entropy = 0.998007774938</tspan><tspan x="0" y="61.5">samples = 57</tspan></text></g>
<g id="n104" transform="translate(2133,1191)"><rect x="-130.5" width="261" height="71"/><text><tspan x="0" y="20.5">entropy = 0.0000</tspan><tspan x="0" y="41">samples = 57</tspan><tspan x="0" y="61.5" xml:space="preserve">value = [ 14.89851325   0.        ]</tspan></text></g>
<g id="n105" transform="translate(2415,1191)"><rect x="-123.5" width="247" height="71"/><text><tspan x="0" y="20.5">entropy = 0.0000</tspan><tspan x="0" y="41">samples = 2</tspan><tspan x="0" y="61.5" xml:space="preserve">value = [ 0.86619263  0.        ]</tspan></text></g>
<g id="n106" transform="translate(2670,1191)"><rect x="-107" width="214" height="71"/><text><tspan x="0" y="20.5">X[1] &lt;= 0.1718</tspan><tspan x="0" y="41">entropy = 0.55660507266</tspan><tspan x="0" y="61.5">samples = 13</tspan></text></g>
<g id="n107" transform="translate(2924,1191)"><rect x="-123.5" width="247" height="71"/><text><tspan x="0" y="20.5">entropy = 0.0000</tspan><tspan x="0" y="41">samples = 4</tspan><tspan x="0" y="61.5" xml:space="preserve">value = [ 1.03943116  0.        ]</tspan></text></g>
<g id="n108" transform="translate(3184,1191)"><rect x="-111.5" width="223" height="71"/><text><tspan x="0" y="20.5">X[6] &lt;= 2.3181</tspan><tspan x="0" y="41">entropy = 0.518876979435</tspan><tspan x="0" y="61.5">samples = 26</tspan></text></g>
<g id="n109" transform="translate(3576,1191)"><rect x="-111.5" width="223" height="71"/><text><tspan x="0" y="20.5">X[4] &lt;= 2.6457</tspan><tspan x="0" y="41">entropy = 0.126993219548</tspan><tspan x="0" y="61.5">samples = 11</tspan></text></g>
<g id="n110" transform="translate(3836,1191)"><rect x="-123.5" width="247" height="71"/><text><tspan x="0" y="20.5">entropy = 0.0000</tspan><tspan x="0" y="41">samples = 2</tspan><tspan x="0" y="61.5" xml:space="preserve">value = [ 0.51971558  0.        ]</tspan></text></g>
<g id="n111" transform="translate(4676,1191)"><rect x="-115" width="230" height="71"/><text><tspan x="0" y="20.5">X[4] &lt;= -1.4966</tspan><tspan x="0" y="41">entropy = 0.0836121100149</tspan><tspan x="0" y="61.5">samples = 9</tspan></text></g>
<g id="n112" transform="translate(4956,1191)"><rect x="-111.5" width="223" height="71"/><text><tspan x="0" y="20.5">X[3] &lt;= 2.8401</tspan><tspan x="0" y="41">entropy = 0.605092652662</tspan><tspan x="0" y="61.5">samples = 21</tspan></text></g>
<g id="n113" transform="translate(5843,1191)"><rect x="-111.5" width="223" height="71"/><text><tspan x="0" y="20.5">X[6] &lt;= 1.4445</tspan><tspan x="0" y="41">entropy = 0.870337724387</tspan><tspan x="0" y="61.5">samples = 25</tspan></text></g>
<g id="n114" transform="translate(6102,1191)"><rect x="-123.5" width="247" height="71"/><text><tspan x="0" y="20.5">entropy = 0.0000</tspan><tspan x="0" y="41">samples = 3</tspan><tspan x="0" y="61.5" xml:space="preserve">value = [ 0.          9.13380737]</tspan></text></g>
<g id="n115" transform="translate(6374,1191)"><rect x="-123.5" width="247" height="71"/><text><tspan x="0" y="20.5">entropy = 0.0000</tspan><tspan x="0" y="41">samples = 2</tspan><tspan x="0" y="61.5" xml:space="preserve">value = [ 0.51971558  0.        ]</tspan></text></g>
<g id="n116" transform="translate(6646,1191)"><rect x="-123.5" width="247" height="71"/><text><tspan x="0" y="20.5">entropy = 0.0000</tspan><tspan x="0" y="41">samples = 1</tspan><tspan x="0" y="61.5" xml:space="preserve">value = [ 0.          3.65352295]</tspan></text></g>
<g id="n117" transform="translate(129,1310)"><rect x="-123.5" width="247" height="71"/><text><tspan x="0" y="20.5">entropy = 0.0000</tspan><tspan x="0" y="41">samples = 1</tspan><tspan x="0" y="61.5" xml:space="preserve">value = [ 0.          1.82676147]</tspan></text></g>
<g id="n118" transform="translate(401,1310)"><rect x="-123.5" width="247" height="71"/><text><tspan x="0" y="20.5">entropy = -0.0000</tspan><tspan x="0" y="41">samples = 3</tspan><tspan x="0" y="61.5" xml:space="preserve">value = [ 0.51971558  0.        ]</tspan></text></g>
<g id="n119" transform="translate(1195,1310)"><rect x="-115" width="230" height="71"/><text><tspan x="0" y="20.5">X[0] &lt;= 1.0870</tspan><tspan x="0" y="41">entropy = 0.0875712280875</tspan><tspan x="0" y="61.5">samples = 11</tspan></text></g>
<g id="n120" transform="translate(1459,1310)"><rect x="-123.5" width="247" height="71"/><text><tspan x="0" y="20.5">entropy = -0.0000</tspan><tspan x="0" y="41">samples = 1</tspan><tspan x="0" y="61.5" xml:space="preserve">value = [ 0.17323853  0.        ]</tspan></text></g>
<g id="n121" transform="translate(1737,1310)"><rect x="-130.5" width="261" height="71"/><text><tspan x="0" y="20.5">entropy = 0.0000</tspan><tspan x="0" y="41">samples = 37</tspan><tspan x="0" y="61.5" xml:space="preserve">value = [ 10.39431157   0.        ]</tspan></text></g>
<g id="n122" transform="translate(2005,1310)"><rect x="-111.5" width="223" height="71"/><text><tspan x="0" y="20.5">X[0] &lt;= 1.2689</tspan><tspan x="0" y="41">entropy = 0.777335887587</tspan><tspan x="0" y="61.5">samples = 20</tspan></text></g>
<g id="n123" transform="translate(2470,1310)"><rect x="-111.5" width="223" height="71"/><text><tspan x="0" y="20.5">X[1] &lt;= 0.0119</tspan><tspan x="0" y="41">entropy = 0.384946654448</tspan><tspan x="0" y="61.5">samples = 11</tspan></text></g>
<g id="n124" transform="translate(2730,1310)"><rect x="-123.5" width="247" height="71"/><text><tspan x="0" y="20.5">entropy = 0.0000</tspan><tspan x="0" y="41">samples = 2</tspan><tspan x="0" y="61.5" xml:space="preserve">value = [ 0.86619263  0.        ]</tspan></text></g>
<g id="n125" transform="translate(3062,1310)"><rect x="-111.5" width="223" height="71"/><text><tspan x="0" y="20.5">X[0] &lt;= 0.3134</tspan><tspan x="0" y="41">entropy = 0.985657585842</tspan><tspan x="0" y="61.5">samples = 10</tspan></text></g>
<g id="n126" transform="translate(3316,1310)"><rect x="-111.5" width="223" height="71"/><text><tspan x="0" y="20.5">X[5] &lt;= 16.2262</tspan><tspan x="0" y="41">entropy = 0.318710555482</tspan><tspan x="0" y="61.5">samples = 16</tspan></text></g>
<g id="n127" transform="translate(3576,1310)"><rect x="-123.5" width="247" height="71"/><text><tspan x="0" y="20.5">entropy = 0.0000</tspan><tspan x="0" y="41">samples = 1</tspan><tspan x="0" y="61.5" xml:space="preserve">value = [ 0.17323853  0.        ]</tspan></text></g>
<g id="n128" transform="translate(3840,1310)"><rect x="-115" width="230" height="71"/><text><tspan x="0" y="20.5">X[4] &lt;= 11.4286</tspan><tspan x="0" y="41">entropy = 0.0919615009835</tspan><tspan x="0" y="61.5">samples = 10</tspan></text></g>
<g id="n129" transform="translate(4409,1310)"><rect x="-111.5" width="223" height="71"/><text><tspan x="0" y="20.5">X[0] &lt;= 0.9140</tspan><tspan x="0" y="41">entropy = 0.425083533974</tspan><tspan x="0" y="61.5">samples = 2</tspan></text></g>
<g id="n130" transform="translate(4676,1310)"><rect x="-130.5" width="261" height="71"/><text><tspan x="0" y="20.5">entropy = 0.0000</tspan><tspan x="0" y="41">samples = 7</tspan><tspan x="0" y="61.5" xml:space="preserve">value = [  0.          14.61409179]</tspan></text></g>
<g id="n131" transform="translate(4957,1310)"><rect x="-123.5" width="247" height="71"/><text><tspan x="0" y="20.5">entropy = 0.0000</tspan><tspan x="0" y="41">samples = 4</tspan><tspan x="0" y="61.5" xml:space="preserve">value = [ 1.21266968  0.        ]</tspan></text></g>
<g id="n132" transform="translate(5211,1310)"><rect x="-107" width="214" height="71"/><text><tspan x="0" y="20.5">X[2] &lt;= 0.4037</tspan><tspan x="0" y="41">entropy = 0.48766735058</tspan><tspan x="0" y="61.5">samples = 17</tspan></text></g>
<g id="n133" transform="translate(5736,1310)"><rect x="-123.5" width="247" height="71"/><text><tspan x="0" y="20.5">entropy = 0.0000</tspan><tspan x="0" y="41">samples = 2</tspan><tspan x="0" y="61.5" xml:space="preserve">value = [ 0.          5.48028442]</tspan></text></g>
<g id="n134" transform="translate(5997,1310)"><rect x="-111.5" width="223" height="71"/><text><tspan x="0" y="20.5">X[7] &lt;= 11.9938</tspan><tspan x="0" y="41">entropy = 0.993095054748</tspan><tspan x="0" y="61.5">samples = 23</tspan></text></g>
<g id="n135" transform="translate(1063,1428)"><rect x="-107" width="214" height="71"/><text><tspan x="0" y="20.5">X[7] &lt;= 4.3470</tspan><tspan x="0" y="41">entropy = 0.26595502742</tspan><tspan x="0" y="61.5">samples = 6</tspan></text></g>
<g id="n136" transform="translate(1324,1428)"><rect x="-130.5" width="261" height="71"/><text><tspan x="0" y="20.5">entropy = 0.0000</tspan><tspan x="0" y="41">samples = 5</tspan><tspan x="0" y="61.5" xml:space="preserve">value = [  0.          23.74789916]</tspan></text></g>
<g id="n137" transform="translate(1751,1428)"><rect x="-111.5" width="223" height="71"/><text><tspan x="0" y="20.5">X[3] &lt;= 2.4261</tspan><tspan x="0" y="41">entropy = 0.713956879899</tspan><tspan x="0" y="61.5">samples = 17</tspan></text></g>
<g id="n138" transform="translate(2005,1428)"><rect x="-117" width="234" height="71"/><text><tspan x="0" y="20.5">entropy = -0.0000</tspan><tspan x="0" y="41">samples = 3</tspan><tspan x="0" y="61.5" xml:space="preserve">value = [ 0.6929541  0.       ]</tspan></text></g>
<g id="n139" transform="translate(2271,1428)"><rect x="-123.5" width="247" height="71"/><text><tspan x="0" y="20.5">entropy = 0.0000</tspan><tspan x="0" y="41">samples = 2</tspan><tspan x="0" y="61.5" xml:space="preserve">value = [ 0.34647705  0.        ]</tspan></text></g>
<g id="n140" transform="translate(2530,1428)"><rect x="-111.5" width="223" height="71"/><text><tspan x="0" y="20.5">X[3] &lt;= 3.2646</tspan><tspan x="0" y="41">entropy = 0.292335605756</tspan><tspan x="0" y="61.5">samples = 9</tspan></text></g>
<g id="n141" transform="translate(2790,1428)"><rect x="-123.5" width="247" height="71"/><text><tspan x="0" y="20.5">entropy = 0.0000</tspan><tspan x="0" y="41">samples = 1</tspan><tspan x="0" y="61.5" xml:space="preserve">value = [ 0.          1.82676147]</tspan></text></g>
<g id="n142" transform="translate(3062,1428)"><rect x="-123.5" width="247" height="71"/><text><tspan x="0" y="20.5">entropy = 0.0000</tspan><tspan x="0" y="41">samples = 9</tspan><tspan x="0" y="61.5" xml:space="preserve">value = [ 2.42533937  0.        ]</tspan></text></g>
<g id="n143" transform="translate(3317,1428)"><rect x="-107" width="214" height="71"/><text><tspan x="0" y="20.5">X[3] &lt;= 2.9929</tspan><tspan x="0" y="41">entropy = 0.20622336062</tspan><tspan x="0" y="61.5">samples = 15</tspan></text></g>
<g id="n144" transform="translate(3573,1428)"><rect x="-123.5" width="247" height="71"/><text><tspan x="0" y="20.5">entropy = -0.0000</tspan><tspan x="0" y="41">samples = 1</tspan><tspan x="0" y="61.5" xml:space="preserve">value = [ 0.86619263  0.        ]</tspan></text></g>
<g id="n145" transform="translate(3840,1428)"><rect x="-107" width="214" height="71"/><text><tspan x="0" y="20.5">X[1] &lt;= -0.5856</tspan><tspan x="0" y="41">entropy = 0.26595502742</tspan><tspan x="0" y="61.5">samples = 5</tspan></text></g>
<g id="n146" transform="translate(4102,1428)"><rect x="-130.5" width="261" height="71"/><text><tspan x="0" y="20.5">entropy = 0.0000</tspan><tspan x="0" y="41">samples = 5</tspan><tspan x="0" y="61.5" xml:space="preserve">value = [  0.          21.92113769]</tspan></text></g>
<g id="n147" transform="translate(4395,1428)"><rect x="-123.5" width="247" height="71"/><text><tspan x="0" y="20.5">entropy = 0.0000</tspan><tspan x="0" y="41">samples = 1</tspan><tspan x="0" y="61.5" xml:space="preserve">value = [ 0.17323853  0.        ]</tspan></text></g>
<g id="n148" transform="translate(4667,1428)"><rect x="-123.5" width="247" height="71"/><text><tspan x="0" y="20.5">entropy = 0.0000</tspan><tspan x="0" y="41">samples = 1</tspan><tspan x="0" y="61.5" xml:space="preserve">value = [ 0.          1.82676147]</tspan></text></g>
<g id="n149" transform="translate(4958,1428)"><rect x="-130.5" width="261" height="71"/><text><tspan x="0" y="20.5">entropy = 0.0000</tspan><tspan x="0" y="41">samples = 4</tspan><tspan x="0" y="61.5" xml:space="preserve">value = [  0.          12.78733032]</tspan></text></g>
<g id="n150" transform="translate(5225,1428)"><rect x="-111.5" width="223" height="71"/><text><tspan x="0" y="20.5">X[3] &lt;= 2.9219</tspan><tspan x="0" y="41">entropy = 0.762874535321</tspan><tspan x="0" y="61.5">samples = 13</tspan></text></g>
<g id="n151" transform="translate(5817,1428)"><rect x="-111.5" width="223" height="71"/><text><tspan x="0" y="20.5">X[0] &lt;= 0.5667</tspan><tspan x="0" y="41">entropy = 0.506669461306</tspan><tspan x="0" y="61.5">samples = 7</tspan></text></g>
<g id="n152" transform="translate(6076,1428)"><rect x="-123.5" width="247" height="71"/><text><tspan x="0" y="20.5">entropy = 0.0000</tspan><tspan x="0" y="41">samples = 16</tspan><tspan x="0" y="61.5" xml:space="preserve">value = [ 3.81124758  0.        ]</tspan></text></g>
<g id="n153" transform="translate(933,1547)"><rect x="-111.5" width="223" height="71"/><text><tspan x="0" y="20.5">X[9] &lt;= 18.4410</tspan><tspan x="0" y="41">entropy = 0.158829603365</tspan><tspan x="0" y="61.5">samples = 5</tspan></text></g>
<g id="n154" transform="translate(1193,1547)"><rect x="-123.5" width="247" height="71"/><text><tspan x="0" y="20.5">entropy = 0.0000</tspan><tspan x="0" y="41">samples = 1</tspan><tspan x="0" y="61.5" xml:space="preserve">value = [ 0.17323853  0.        ]</tspan></text></g>
<g id="n155" transform="translate(1747,1547)"><rect x="-123.5" width="247" height="71"/><text><tspan x="0" y="20.5">entropy = 0.0000</tspan><tspan x="0" y="41">samples = 1</tspan><tspan x="0" y="61.5" xml:space="preserve">value = [ 0.          5.48028442]</tspan></text></g>
<g id="n156" transform="translate(2006,1547)"><rect x="-111.5" width="223" height="71"/><text><tspan x="0" y="20.5">X[0] &lt;= 1.2254</tspan><tspan x="0" y="41">entropy = 0.880196737519</tspan><tspan x="0" y="61.5">samples = 16</tspan></text></g>
<g id="n157" transform="translate(2277,1547)"><rect x="-117.5" width="235" height="71"/><text><tspan x="0" y="20.5">entropy = 0.0000</tspan><tspan x="0" y="41">samples = 3</tspan><tspan x="0" y="61.5" xml:space="preserve">value = [ 0.         7.3070459]</tspan></text></g>
<g id="n158" transform="translate(2530,1547)"><rect x="-111.5" width="223" height="71"/><text><tspan x="0" y="20.5">X[3] &lt;= 3.3960</tspan><tspan x="0" y="41">entropy = 0.506669461306</tspan><tspan x="0" y="61.5">samples = 6</tspan></text></g>
<g id="n159" transform="translate(3312,1547)"><rect x="-111.5" width="223" height="71"/><text><tspan x="0" y="20.5">X[8] &lt;= 103.0491</tspan><tspan x="0" y="41">entropy = 0.632941577193</tspan><tspan x="0" y="61.5">samples = 4</tspan></text></g>
<g id="n160" transform="translate(3564,1547)"><rect x="-115" width="230" height="71"/><text><tspan x="0" y="20.5">X[0] &lt;= 1.7614</tspan><tspan x="0" y="41">entropy = 0.0968601555152</tspan><tspan x="0" y="61.5">samples = 11</tspan></text></g>
<g id="n161" transform="translate(3838,1547)"><rect x="-123.5" width="247" height="71"/><text><tspan x="0" y="20.5">entropy = 0.0000</tspan><tspan x="0" y="41">samples = 1</tspan><tspan x="0" y="61.5" xml:space="preserve">value = [ 0.17323853  0.        ]</tspan></text></g>
<g id="n162" transform="translate(4098,1547)"><rect x="-111.5" width="223" height="71"/><text><tspan x="0" y="20.5">X[7] &lt;= 24.1466</tspan><tspan x="0" y="41">entropy = 0.158829603365</tspan><tspan x="0" y="61.5">samples = 4</tspan></text></g>
<g id="n163" transform="translate(5078,1547)"><rect x="-117.5" width="235" height="71"/><text><tspan x="0" y="20.5">entropy = 0.0000</tspan><tspan x="0" y="41">samples = 3</tspan><tspan x="0" y="61.5" xml:space="preserve">value = [ 0.         7.3070459]</tspan></text></g>
<g id="n164" transform="translate(5332,1547)"><rect x="-111.5" width="223" height="71"/><text><tspan x="0" y="20.5">X[0] &lt;= 0.8708</tspan><tspan x="0" y="41">entropy = 0.977945221995</tspan><tspan x="0" y="61.5">samples = 10</tspan></text></g>
<g id="n165" transform="translate(5604,1547)"><rect x="-123.5" width="247" height="71"/><text><tspan x="0" y="20.5">entropy = 0.0000</tspan><tspan x="0" y="41">samples = 3</tspan><tspan x="0" y="61.5" xml:space="preserve">value = [ 0.51971558  0.        ]</tspan></text></g>
<g id="n166" transform="translate(5864,1547)"><rect x="-111.5" width="223" height="71"/><text><tspan x="0" y="20.5">X[7] &lt;= 10.8673</tspan><tspan x="0" y="41">entropy = 0.197604196597</tspan><tspan x="0" y="61.5">samples = 4</tspan></text></g>
<g id="n167" transform="translate(801,1665)"><rect x="-123.5" width="247" height="71"/><text><tspan x="0" y="20.5">entropy = 0.0000</tspan><tspan x="0" y="41">samples = 1</tspan><tspan x="0" y="61.5" xml:space="preserve">value = [ 0.17323853  0.        ]</tspan></text></g>
<g id="n168" transform="translate(1066,1665)"><rect x="-117.5" width="235" height="71"/><text><tspan x="0" y="20.5">entropy = 0.0000</tspan><tspan x="0" y="41">samples = 4</tspan><tspan x="0" y="61.5" xml:space="preserve">value = [ 0.         7.3070459]</tspan></text></g>
<g id="n169" transform="translate(1876,1665)"><rect x="-107" width="214" height="71"/><text><tspan x="0" y="20.5">X[1] &lt;= 0.2942</tspan><tspan x="0" y="41">entropy = 0.99548905735</tspan><tspan x="0" y="61.5">samples = 15</tspan></text></g>
<g id="n170" transform="translate(2131,1665)"><rect x="-123.5" width="247" height="71"/><text><tspan x="0" y="20.5">entropy = 0.0000</tspan><tspan x="0" y="41">samples = 1</tspan><tspan x="0" y="61.5" xml:space="preserve">value = [ 0.          3.65352295]</tspan></text></g>
<g id="n171" transform="translate(2527,1665)"><rect x="-123.5" width="247" height="71"/><text><tspan x="0" y="20.5">entropy = 0.0000</tspan><tspan x="0" y="41">samples = 2</tspan><tspan x="0" y="61.5" xml:space="preserve">value = [ 0.51971558  0.        ]</tspan></text></g>
<g id="n172" transform="translate(2786,1665)"><rect x="-111.5" width="223" height="71"/><text><tspan x="0" y="20.5">X[1] &lt;= 0.0406</tspan><tspan x="0" y="41">entropy = 0.197604196597</tspan><tspan x="0" y="61.5">samples = 4</tspan></text></g>
<g id="n173" transform="translate(3045,1665)"><rect x="-123.5" width="247" height="71"/><text><tspan x="0" y="20.5">entropy = 0.0000</tspan><tspan x="0" y="41">samples = 1</tspan><tspan x="0" y="61.5" xml:space="preserve">value = [ 0.          3.65352295]</tspan></text></g>
<g id="n174" transform="translate(3312,1665)"><rect x="-117.5" width="235" height="71"/><text><tspan x="0" y="20.5">entropy = 0.0000</tspan><tspan x="0" y="41">samples = 3</tspan><tspan x="0" y="61.5" xml:space="preserve">value = [ 0.6929541  0.       ]</tspan></text></g>
<g id="n175" transform="translate(3565,1665)"><rect x="-111.5" width="223" height="71"/><text><tspan x="0" y="20.5">X[6] &lt;= 3.8344</tspan><tspan x="0" y="41">entropy = 0.054988395254</tspan><tspan x="0" y="61.5">samples = 10</tspan></text></g>
<g id="n176" transform="translate(3825,1665)"><rect x="-123.5" width="247" height="71"/><text><tspan x="0" y="20.5">entropy = -0.0000</tspan><tspan x="0" y="41">samples = 1</tspan><tspan x="0" y="61.5" xml:space="preserve">value = [ 0.17323853  0.        ]</tspan></text></g>
<g id="n177" transform="translate(4097,1665)"><rect x="-123.5" width="247" height="71"/><text><tspan x="0" y="20.5">entropy = 0.0000</tspan><tspan x="0" y="41">samples = 1</tspan><tspan x="0" y="61.5" xml:space="preserve">value = [ 0.17323853  0.        ]</tspan></text></g>
<g id="n178" transform="translate(4362,1665)"><rect x="-117.5" width="235" height="71"/><text><tspan x="0" y="20.5">entropy = -0.0000</tspan><tspan x="0" y="41">samples = 3</tspan><tspan x="0" y="61.5" xml:space="preserve">value = [ 0.         7.3070459]</tspan></text></g>
<g id="n179" transform="translate(5188,1665)"><rect x="-123.5" width="247" height="71"/><text><tspan x="0" y="20.5">entropy = 0.0000</tspan><tspan x="0" y="41">samples = 9</tspan><tspan x="0" y="61.5" xml:space="preserve">value = [ 2.59857789  0.        ]</tspan></text></g>
<g id="n180" transform="translate(5462,1665)"><rect x="-123.5" width="247" height="71"/><text><tspan x="0" y="20.5">entropy = 0.0000</tspan><tspan x="0" y="41">samples = 1</tspan><tspan x="0" y="61.5" xml:space="preserve">value = [ 0.          1.82676147]</tspan></text></g>
<g id="n181" transform="translate(5799,1665)"><rect x="-123.5" width="247" height="71"/><text><tspan x="0" y="20.5">entropy = 0.0000</tspan><tspan x="0" y="41">samples = 1</tspan><tspan x="0" y="61.5" xml:space="preserve">value = [ 0.17323853  0.        ]</tspan></text></g>
<g id="n182" transform="translate(6070,1665)"><rect x="-123.5" width="247" height="71"/><text><tspan x="0" y="20.5">entropy = -0.0000</tspan><tspan x="0" y="41">samples = 3</tspan><tspan x="0" y="61.5" xml:space="preserve">value = [ 0.          5.48028442]</tspan></text></g>
<g id="n183" transform="translate(1747,1784)"><rect x="-123.5" width="247" height="71"/><text><tspan x="0" y="20.5">entropy = 0.0000</tspan><tspan x="0" y="41">samples = 12</tspan><tspan x="0" y="61.5" xml:space="preserve">value = [ 2.77181642  0.        ]</tspan></text></g>
<g id="n184" transform="translate(2006,1784)"><rect x="-111.5" width="223" height="71"/><text><tspan x="0" y="20.5">X[3] &lt;= 3.3662</tspan><tspan x="0" y="41">entropy = 0.425083533974</tspan><tspan x="0" y="61.5">samples = 3</tspan></text></g>
<g id="n185" transform="translate(2709,1784)"><rect x="-123.5" width="247" height="71"/><text><tspan x="0" y="20.5">entropy = 0.0000</tspan><tspan x="0" y="41">samples = 1</tspan><tspan x="0" y="61.5" xml:space="preserve">value = [ 0.17323853  0.        ]</tspan></text></g>
<g id="n186" transform="translate(2981,1784)"><rect x="-123.5" width="247" height="71"/><text><tspan x="0" y="20.5">entropy = -0.0000</tspan><tspan x="0" y="41">samples = 3</tspan><tspan x="0" y="61.5" xml:space="preserve">value = [ 0.          5.48028442]</tspan></text></g>
<g id="n187" transform="translate(3378,1784)"><rect x="-130.5" width="261" height="71"/><text><tspan x="0" y="20.5">entropy = 0.0000</tspan><tspan x="0" y="41">samples = 7</tspan><tspan x="0" y="61.5" xml:space="preserve">value = [  0.          23.74789916]</tspan></text></g>
<g id="n188" transform="translate(3641,1784)"><rect x="-107" width="214" height="71"/><text><tspan x="0" y="20.5">X[1] &lt;= 0.3060</tspan><tspan x="0" y="41">entropy = 0.26595502742</tspan><tspan x="0" y="61.5">samples = 3</tspan></text></g>
<g id="n189" transform="translate(1870,1903)"><rect x="-123.5" width="247" height="71"/><text><tspan x="0" y="20.5">entropy = 0.0000</tspan><tspan x="0" y="41">samples = 1</tspan><tspan x="0" y="61.5" xml:space="preserve">value = [ 0.34647705  0.        ]</tspan></text></g>
<g id="n190" transform="translate(2142,1903)"><rect x="-123.5" width="247" height="71"/><text><tspan x="0" y="20.5">entropy = 0.0000</tspan><tspan x="0" y="41">samples = 2</tspan><tspan x="0" y="61.5" xml:space="preserve">value = [ 0.          3.65352295]</tspan></text></g>
<g id="n191" transform="translate(3504,1903)"><rect x="-123.5" width="247" height="71"/><text><tspan x="0" y="20.5">entropy = 0.0000</tspan><tspan x="0" y="41">samples = 2</tspan><tspan x="0" y="61.5" xml:space="preserve">value = [ 0.          3.65352295]</tspan></text></g>
<g id="n192" transform="translate(3777,1903)"><rect x="-123.5" width="247" height="71"/><text><tspan x="0" y="20.5">entropy = -0.0000</tspan><tspan x="0" y="41">samples = 1</tspan><tspan x="0" y="61.5" xml:space="preserve">value = [ 0.17323853  0.        ]</tspan></text></g>
</svg>
